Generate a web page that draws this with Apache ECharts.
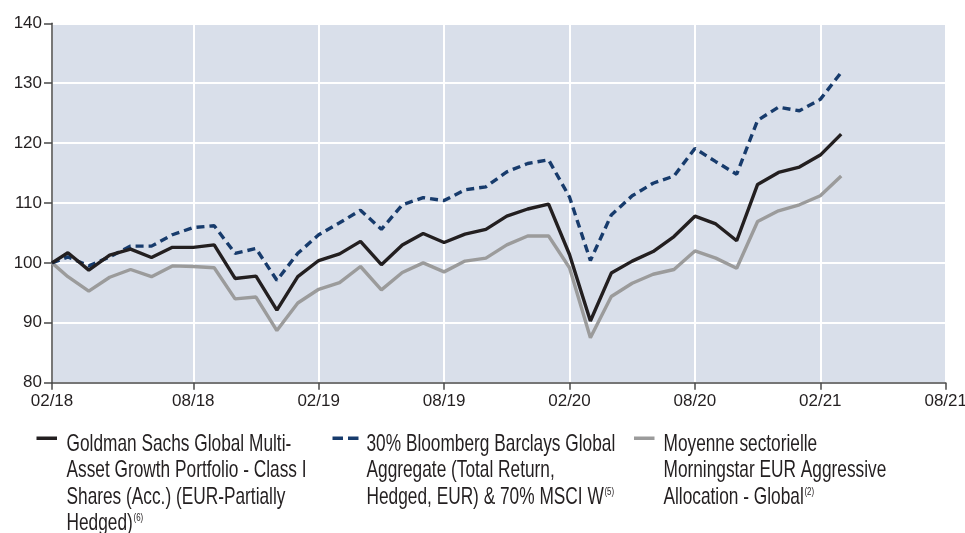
<!DOCTYPE html>
<html>
<head>
<meta charset="utf-8">
<script src="https://cdn.jsdelivr.net/npm/echarts@6/dist/echarts.min.js"></script>
<style>
html,body{margin:0;padding:0;background:#fff;}
#chart{width:965px;height:533px;}
</style>
</head>
<body>
<div id="chart"></div>
<script>
// x positions in months after Feb 2018 (first point is the inception, a little before)
const months = [-0.76, 0, 1, 2, 3, 4, 5, 6, 7, 8, 9, 10, 11, 12, 13, 14, 15, 16, 17, 18, 19,
  20, 21, 22, 23, 24, 25, 26, 27, 28, 29, 30, 31, 32, 33, 34, 35, 36, 37];

const fundValues = [100.0, 101.7, 98.8, 101.3, 102.3, 100.9, 102.6, 102.6, 103.0, 97.4, 97.8,
  92.1, 97.7, 100.4, 101.5, 103.6, 99.7, 103.0, 104.9, 103.4, 104.8, 105.6, 107.8, 109.0, 109.8,
  101.4, 90.3, 98.3, 100.3, 101.9, 104.4, 107.8, 106.5, 103.7, 113.1, 115.1, 116.0, 118.0, 121.5];

const benchmarkValues = [100.0, 101.0, 99.5, 101.0, 102.8, 102.8, 104.7, 105.9, 106.2, 101.6,
  102.4, 97.1, 101.6, 104.7, 106.7, 108.8, 105.6, 109.7, 110.9, 110.4, 112.2, 112.7, 115.2, 116.6,
  117.2, 111.0, 100.4, 108.0, 111.2, 113.3, 114.5, 119.1, 116.9, 114.8, 123.8, 126.0, 125.4,
  127.3, 131.8];

const sectorValues = [100.0, 97.7, 95.3, 97.6, 98.9, 97.7, 99.5, 99.4, 99.2, 94.0, 94.3, 88.7,
  93.3, 95.6, 96.7, 99.4, 95.5, 98.4, 100.0, 98.5, 100.3, 100.8, 103.0, 104.5, 104.5, 99.2,
  87.5, 94.4, 96.6, 98.1, 98.9, 102.0, 100.8, 99.1, 106.9, 108.7, 109.7, 111.2, 114.5];

const xTickValues = [-0.76, 6, 12, 18, 24, 30, 36, 42];
const xTickLabels = ['02/18', '08/18', '02/19', '08/19', '02/20', '08/20', '02/21', '08/21'];

const legendNames = [
  'Goldman Sachs Global Multi-\nAsset Growth Portfolio - Class I\nShares (Acc.) (EUR-Partially\nHedged)',
  '30% Bloomberg Barclays Global\nAggregate (Total Return,\nHedged, EUR) & 70% MSCI W',
  'Moyenne sectorielle\nMorningstar EUR Aggressive\nAllocation - Global'
];
const legendNotes = ['(6)', '(5)', '(2)'];

const colors = {fund: '#231f20', bench: '#173b6c', sector: '#9b9b9b'};
const FONT = "'Liberation Sans', Arial, sans-serif";

function pairs(vals) { return months.map((m, i) => [m, vals[i]]); }

const chart = echarts.init(document.getElementById('chart'), null, {renderer: 'canvas'});

const legendX = [{icon: 36.5, text: 66.5}, {icon: 332.5, text: 366.5}, {icon: 634, text: 663.5}];
const legendColors = [colors.fund, colors.bench, colors.sector];
const graphics = [];
legendNames.forEach((name, i) => {
  const lx = legendX[i];
  if (i === 1) {
    graphics.push({type: 'rect', shape: {x: lx.icon, y: 436.5, width: 10.5, height: 3.5}, style: {fill: legendColors[i]}});
    graphics.push({type: 'rect', shape: {x: lx.icon + 15.5, y: 436.5, width: 10.5, height: 3.5}, style: {fill: legendColors[i]}});
  } else {
    graphics.push({type: 'rect', shape: {x: lx.icon, y: 436.5, width: 20.5, height: 3.5}, style: {fill: legendColors[i]}});
  }
  graphics.push({
    type: 'text', x: lx.text, y: 431, scaleX: 0.72,
    style: {
      text: name + '{sup|' + legendNotes[i] + '}',
      font: "24px " + FONT,
      fill: '#231f20',
      lineHeight: 26.5,
      rich: {sup: {fontSize: 11, fontFamily: FONT, fill: '#231f20', verticalAlign: 'top', lineHeight: 12, padding: [2, 0, 0, 1]}}
    }
  });
});

const option = {
  animation: false,
  backgroundColor: '#ffffff',
  grid: {left: 52, right: 19.3, top: 23.3, bottom: 150.3, show: true, backgroundColor: '#d9dfea',
         borderWidth: 0, containLabel: false, outerBoundsMode: 'none'},
  xAxis: {
    type: 'value', min: -0.76, max: 42,
    axisLine: {show: true, onZero: false, lineStyle: {color: '#4a4a4a', width: 1.5}},
    axisTick: {show: true, length: 7, lineStyle: {color: '#4a4a4a', width: 1.5}, customValues: xTickValues},
    axisLabel: {customValues: xTickValues, margin: 10, fontSize: 17, fontFamily: FONT, color: '#231f20',
      formatter: v => { const i = xTickValues.findIndex(t => Math.abs(t - v) < 1e-6); return i >= 0 ? xTickLabels[i] : ''; }},
    splitLine: {show: true, lineStyle: {color: '#ffffff', width: 2}}
  },
  yAxis: {
    type: 'value', min: 80, max: 140, interval: 10,
    axisLine: {show: true, onZero: false, lineStyle: {color: '#4a4a4a', width: 1.5}},
    axisTick: {show: true, length: 8, lineStyle: {color: '#4a4a4a', width: 1.5}},
    axisLabel: {margin: 10, fontSize: 17, fontFamily: FONT, color: '#231f20'},
    splitLine: {show: true, lineStyle: {color: '#ffffff', width: 2}}
  },
  series: [
    {type: 'line', name: 'sector', data: pairs(sectorValues), symbol: 'none',
     lineStyle: {color: colors.sector, width: 3.4}, z: 3},
    {type: 'line', name: 'bench', data: pairs(benchmarkValues), symbol: 'none',
     lineStyle: {color: colors.bench, width: 3.4, type: [8, 5]}, z: 4},
    {type: 'line', name: 'fund', data: pairs(fundValues), symbol: 'none',
     lineStyle: {color: colors.fund, width: 3.4}, z: 5}
  ],
  graphic: graphics
};
chart.setOption(option);
</script>
</body>
</html>
